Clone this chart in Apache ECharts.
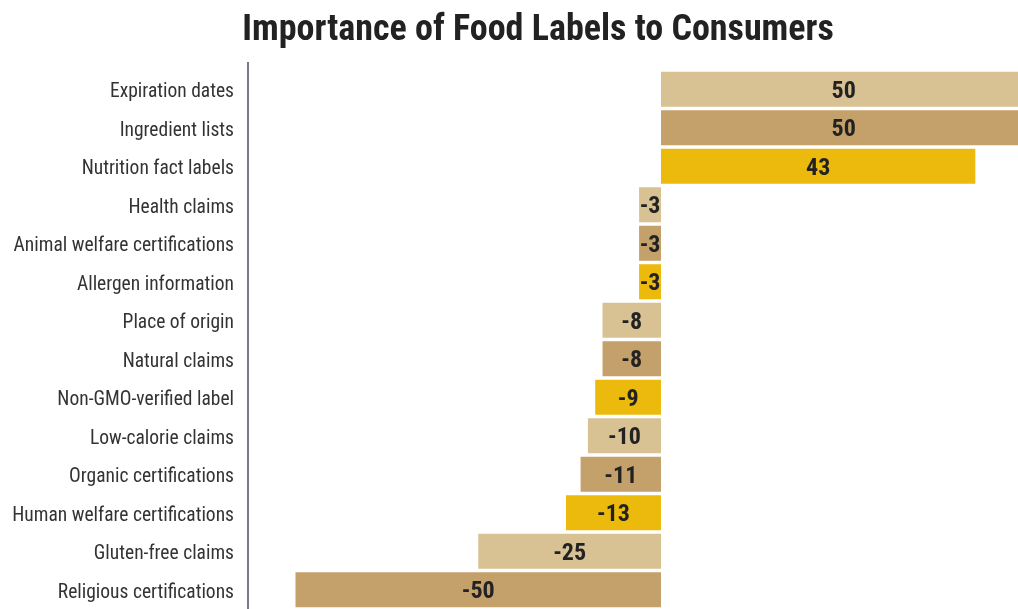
<!DOCTYPE html>
<html>
<head>
<meta charset="utf-8">
<script src="https://cdn.jsdelivr.net/npm/echarts@6/dist/echarts.min.js"></script>
<style>
html,body{margin:0;padding:0;background:#fff;overflow:hidden;width:1018px;height:609px;}
#chart{width:1040px;height:609px;}
</style>
</head>
<body>
<div id="chart"></div>
<script>
const categories = [
  "Expiration dates","Ingredient lists","Nutrition fact labels","Health claims",
  "Animal welfare certifications","Allergen information","Place of origin","Natural claims",
  "Non-GMO-verified label","Low-calorie claims","Organic certifications",
  "Human welfare certifications","Gluten-free claims","Religious certifications"
];
const values = [50, 50, 43, -3, -3, -3, -8, -8, -9, -10, -11, -13, -25, -50];
const palette = ["#D8C294", "#C4A06A", "#ECBA0C"];
const titleText = "Importance of Food Labels to Consumers";

const FONT = "'Roboto Condensed','Liberation Sans Narrow','DejaVu Sans Condensed',sans-serif";
const chart = echarts.init(document.getElementById('chart'), null, {renderer:'canvas'});
chart.setOption({
  animation:false,
  backgroundColor:'#fff',
  title:{
    text:titleText, left:533, top:8, textAlign:'center',
    textStyle:{fontFamily:FONT, fontSize:36, fontWeight:'bold', color:'#222'}
  },
  grid:{left:248, right:13.5, top:70, bottom:-1, containLabel:false},
  xAxis:{type:'value', min:-56.5, max:50, show:false},
  yAxis:{
    type:'category', data:categories, inverse:true,
    axisLine:{show:true, onZero:false, lineStyle:{color:'#767b86', width:2}},
    axisTick:{show:false},
    axisLabel:{fontFamily:FONT, fontSize:19.5, color:'#333', margin:14,
      formatter:function(v){return '{a|' + v + '}';},
      rich:{a:{fontFamily:FONT, fontSize:19.5, color:'#333', padding:[6,0,0,0]}}}
  },
  graphic:[{
    type:'line', shape:{x1:248, y1:62, x2:248, y2:71},
    style:{stroke:'#767b86', lineWidth:2}
  }],
  series:[{
    type:'bar',
    data:values.map((v,i)=>({value:v, itemStyle:{color:palette[i%3]}})),
    barCategoryGap:'9%',
    label:{show:true, position:'inside', offset:[0,2.5], fontFamily:FONT, fontSize:24, fontWeight:'bold', color:'#222'}
  }]
});
</script>
</body>
</html>
